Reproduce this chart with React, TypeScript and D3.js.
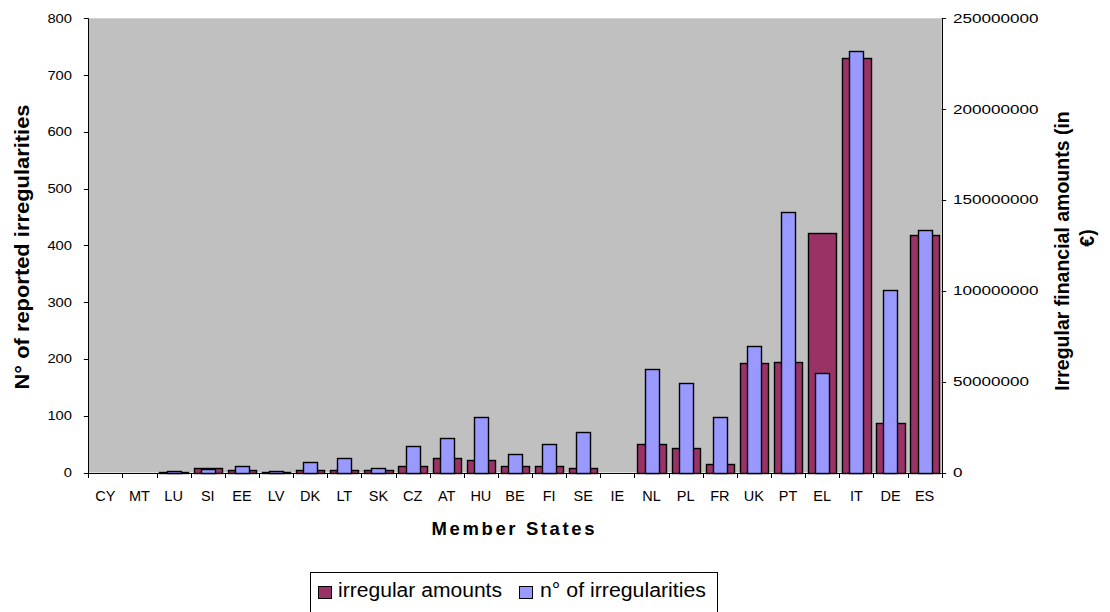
import React from "react";
import * as d3 from "d3";

const categories = ["CY","MT","LU","SI","EE","LV","DK","LT","SK","CZ","AT","HU","BE","FI","SE","IE","NL","PL","FR","UK","PT","EL","IT","DE","ES"];
const irregularAmounts = [0,0,200000,2700000,1400000,300000,1400000,1400000,1400000,3700000,7800000,6900000,3600000,3600000,2500000,0,15500000,13300000,4700000,60100000,61000000,131700000,227900000,27400000,130700000];
const irregularityCounts = [0,0,3,6,11,3,19,25,8,46,60,98,32,50,71,0,182,157,97,223,459,175,743,321,427];
const leftTicks = [0,100,200,300,400,500,600,700,800];
const rightTicks = [0,50000000,100000000,150000000,200000000,250000000];
const seriesNames = ["irregular amounts", "n° of irregularities"];
const colors = ["#993366", "#9999FF"];

const W = 1110, H = 612;
const X0 = 88.3, X1 = 941.7, Y0 = 472.5, Y1 = 18.3;

const snap = (v: number) => Math.round(v) + 0.5;

export default function App() {
  const x = d3.scaleBand<string>().domain(categories).range([X0, X1]).paddingInner(0).paddingOuter(0);
  const yL = d3.scaleLinear().domain([0, 800]).range([Y0, Y1]);
  const yR = d3.scaleLinear().domain([0, 250000000]).range([Y0, Y1]);
  const bw = x.bandwidth();
  const wA = bw * 0.83, wB = bw * 0.41;
  const font = "'Liberation Sans', Arial, sans-serif";
  const boundaries = categories.map((c) => x(c) as number).concat([X1]);
  const base = snap(Y0);

  const bar = (key: string, cx: number, w: number, yTop: number, fill: string) => {
    const xl = snap(cx - w / 2), xr = snap(cx + w / 2), yt = snap(yTop);
    return <rect key={key} x={xl} y={yt} width={xr - xl} height={Math.max(base - yt, 1)} fill={fill} stroke="#000" strokeWidth={1.4} />;
  };

  return (
    <svg width={W} height={H} style={{ position: "absolute", left: 0, top: 0, background: "#fff" }} fontFamily={font}>
      <rect x={X0} y={Y1} width={X1 - X0} height={Y0 - Y1} fill="#C0C0C0" />
      {categories.map((c, i) => {
        const v = irregularAmounts[i];
        if (!v) return null;
        return bar("a" + c, (x(c) as number) + bw / 2, wA, yR(v), colors[0]);
      })}
      {categories.map((c, i) => {
        const v = irregularityCounts[i];
        if (!v) return null;
        return bar("b" + c, (x(c) as number) + bw / 2, wB, yL(v), colors[1]);
      })}
      {/* axes */}
      <line x1={snap(X0)} x2={snap(X0)} y1={Y1} y2={base} stroke="#000" />
      <line x1={snap(X1)} x2={snap(X1)} y1={Y1} y2={base} stroke="#000" />
      <line x1={X0} x2={X1} y1={base} y2={base} stroke="#000" />
      {leftTicks.map((t) => (
        <g key={"l" + t}>
          <line x1={X0 - 4.5} x2={X0} y1={snap(yL(t))} y2={snap(yL(t))} stroke="#000" />
          <text x={72} y={yL(t)} dy="0.36em" textAnchor="end" fontSize={12.5} textLength={String(t).length * 8.2} lengthAdjust="spacingAndGlyphs">{t}</text>
        </g>
      ))}
      {rightTicks.map((t) => (
        <g key={"r" + t}>
          <line x1={X1} x2={X1 + 4.5} y1={snap(yR(t))} y2={snap(yR(t))} stroke="#000" />
          <text x={953} y={yR(t)} dy="0.36em" textAnchor="start" fontSize={12.5} textLength={String(t).length * 9.5} lengthAdjust="spacingAndGlyphs">{t}</text>
        </g>
      ))}
      {boundaries.map((b, i) => (
        <line key={"t" + i} x1={snap(b)} x2={snap(b)} y1={base} y2={base + 4.5} stroke="#000" />
      ))}
      {categories.map((c) => (
        <text key={"c" + c} x={(x(c) as number) + bw / 2} y={501} textAnchor="middle" fontSize={14.5}>{c}</text>
      ))}
      <text x={513} y={535} textAnchor="middle" fontSize={18.5} fontWeight="bold" textLength={163} lengthAdjust="spacing">Member States</text>
      <text transform={`translate(29,247) rotate(-90)`} textAnchor="middle" fontSize={19.5} fontWeight="bold" textLength={285} lengthAdjust="spacingAndGlyphs">N° of reported irregularities</text>
      <text transform={`translate(1069,251) rotate(-90)`} textAnchor="middle" fontSize={19.5} fontWeight="bold">Irregular financial amounts (in</text>
      <text transform={`translate(1094,238) rotate(-90)`} textAnchor="middle" fontSize={19.5} fontWeight="bold">€)</text>
      {/* legend */}
      <rect x={310.5} y={572.5} width={407} height={45} fill="#fff" stroke="#000" />
      <rect x={318.5} y={586.5} width={13} height={12} fill={colors[0]} stroke="#000" />
      <text x={338} y={597} fontSize={20} textLength={164} lengthAdjust="spacingAndGlyphs">{seriesNames[0]}</text>
      <rect x={519.5} y={586.5} width={13} height={12} fill={colors[1]} stroke="#000" />
      <text x={540} y={597} fontSize={20} textLength={166} lengthAdjust="spacingAndGlyphs">{seriesNames[1]}</text>
    </svg>
  );
}
